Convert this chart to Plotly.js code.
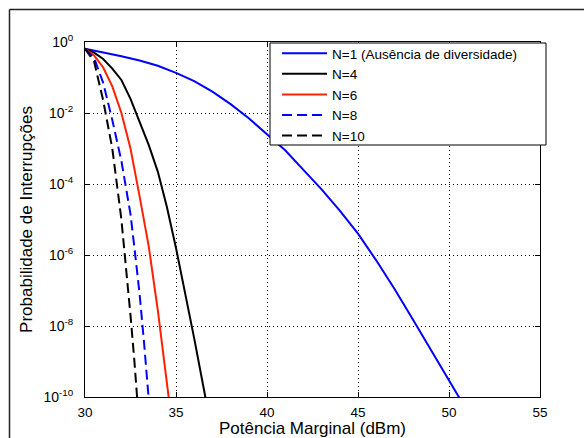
<!DOCTYPE html>
<html>
<head>
<meta charset="utf-8">
<script src="https://cdn.plot.ly/plotly-3.0.1.min.js"></script>
<style>
html,body{margin:0;padding:0;background:#fff;}
#chart{width:584px;height:438px;}
</style>
</head>
<body>
<div id="chart"></div>
<script>
// Data
const x_N1 = [30,31,32,33,34,35,36,37,38,39,40,41,42,43,44,45,46,47,48,49,50,50.6];
const p_N1 = [6.46e-1,5.13e-1,3.98e-1,3.02e-1,2.14e-1,1.35e-1,7.94e-2,3.98e-2,1.78e-2,7.08e-3,2.51e-3,8.91e-4,2.51e-4,7.08e-5,1.78e-5,3.98e-6,7.08e-7,1.12e-7,1.58e-8,2.24e-9,3.02e-10,8.91e-11];

const x_N4 = [30,30.5,31,31.5,32,32.5,33,33.5,34,34.5,35,35.5,36,36.5,36.65];
const p_N4 = [6.46e-1,5.01e-1,3.31e-1,1.78e-1,8.51e-2,2.51e-2,5.62e-3,1.26e-3,2.24e-4,2.24e-5,1.58e-6,8.91e-8,4.47e-9,2.00e-10,7.94e-11];

const x_N6 = [30,30.5,31,31.5,32,32.5,33,33.5,34,34.5,34.62];
const p_N6 = [6.46e-1,4.17e-1,1.91e-1,5.62e-2,1.00e-2,1.00e-3,4.47e-5,1.78e-6,2.82e-8,2.51e-10,7.94e-11];

const x_N8 = [30,30.5,31,31.5,32,32.5,32.75,33,33.25,33.5];
const p_N8 = [6.46e-1,3.55e-1,7.08e-2,6.31e-3,4.47e-4,1.41e-5,1.12e-6,7.94e-8,3.16e-9,8.91e-11];

const x_N10 = [30,30.5,31,31.5,32,32.25,32.5,32.7,32.87];
const p_N10 = [6.46e-1,2.82e-1,2.24e-2,1.00e-3,1.00e-5,5.01e-7,2.00e-8,1.26e-9,8.91e-11];

const seriesNames = ['N=1 (Ausência de diversidade)','N=4','N=6','N=8','N=10'];

const yTickVals = [1e-10,1e-8,1e-6,1e-4,1e-2,1];
const yTickText = ['10<sup>-10</sup>','10<sup>-8</sup>','10<sup>-6</sup>','10<sup>-4</sup>','10<sup>-2</sup>','10<sup>0</sup>'];
const xTickVals = [30,35,40,45,50,55];

const xTitle = 'Potência Marginal (dBm)';
const yTitle = 'Probabilidade de Interrupções';

const FONT = 'Arial, "Liberation Sans", sans-serif';

function tr(x, y, name, color, dash){
  return {x:x, y:y, name:name, type:'scatter', mode:'lines',
    line:{color:color, width:2, dash:dash}};
}

const data = [
  tr(x_N1, p_N1, seriesNames[0], '#0000ff', 'solid'),
  tr(x_N4, p_N4, seriesNames[1], '#000000', 'solid'),
  tr(x_N6, p_N6, seriesNames[2], '#ff2000', 'solid'),
  tr(x_N8, p_N8, seriesNames[3], '#0000ff', '10px,5px'),
  tr(x_N10, p_N10, seriesNames[4], '#000000', '10px,5px')
];

// plot area in px: left 85, right 540, top 42, bottom 397
const L=85, R=540, T=42, B=397;
const px = v => (v - L)/(R - L);
const py = v => (B - v)/(B - T);

const layout = {
  width:584, height:438,
  margin:{l:L, r:584-R, t:T, b:438-B},
  paper_bgcolor:'#fff', plot_bgcolor:'#fff',
  font:{family:FONT, size:12, color:'#000'},
  showlegend:true,
  legend:{x:px(277), y:py(38), xanchor:'left', yanchor:'top',
    bgcolor:'rgba(0,0,0,0)', borderwidth:0,
    font:{family:FONT, size:13.5, color:'#000'}, tracegroupgap:0, itemwidth:45},
  xaxis:{type:'linear', range:[30,55], tickvals:xTickVals,
    showgrid:true, gridcolor:'#000', griddash:'1px,3px', gridwidth:1,
    zeroline:false, showline:true, linecolor:'#000', linewidth:1, mirror:'ticks',
    ticks:'inside', ticklen:5, tickcolor:'#000', ticklabelstandoff:3,
    tickfont:{family:FONT, size:13.5, color:'#000'},
    title:{text:xTitle, font:{family:FONT, size:17, color:'#000'}, standoff:3}},
  yaxis:{type:'log', range:[-10,0], tickvals:yTickVals, ticktext:yTickText,
    showgrid:true, gridcolor:'#000', griddash:'1px,3px', gridwidth:1,
    zeroline:false, showline:true, linecolor:'#000', linewidth:1, mirror:'ticks',
    ticks:'inside', ticklen:5, tickcolor:'#000', ticklabelstandoff:8,
    tickfont:{family:FONT, size:14, color:'#000'},
    title:{text:yTitle, font:{family:FONT, size:17, color:'#000'}, standoff:6}},
  shapes:[
    // legend box
    {type:'rect', xref:'paper', yref:'paper', x0:px(270), x1:px(546), y0:py(145), y1:py(43),
      line:{color:'#000', width:1}, fillcolor:'#fff', layer:'above'},
    // outer figure frame (left and top edges)
    {type:'line', xref:'paper', yref:'paper', x0:px(9.5), x1:px(9.5), y0:py(445), y1:py(9.5),
      line:{color:'#222', width:1.5}},
    {type:'line', xref:'paper', yref:'paper', x0:px(9.5), x1:px(600), y0:py(9.5), y1:py(9.5),
      line:{color:'#222', width:1.5}}
  ]
};

Plotly.newPlot('chart', data, layout, {staticPlot:true, displayModeBar:false});
</script>
</body>
</html>
